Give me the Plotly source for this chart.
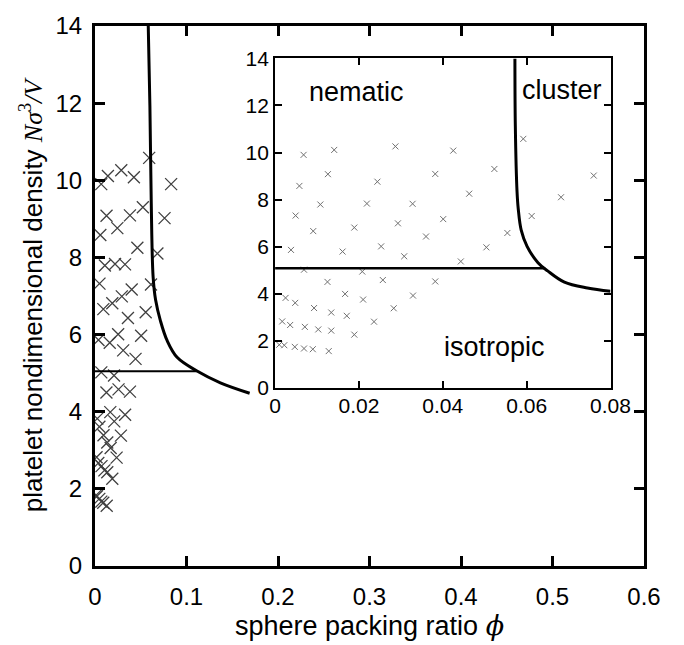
import plotly.graph_objects as go

# ---- data ----
phi = [0.0068, 0.0141, 0.0287, 0.0425, 0.0592, 0.0126, 0.0382, 0.0523, 0.0760,
       0.0058, 0.0244, 0.0463, 0.0682, 0.0108, 0.0219, 0.0328, 0.0049, 0.0401,
       0.0612, 0.0293, 0.0091, 0.0189, 0.0360, 0.0554, 0.0038, 0.0161, 0.0253,
       0.0504, 0.0308, 0.0443, 0.0069, 0.0208, 0.0125, 0.0257, 0.0382, 0.0167,
       0.0025, 0.0048, 0.0210, 0.0329, 0.0093, 0.0134, 0.0171, 0.0283, 0.0017,
       0.0036, 0.0071, 0.0103, 0.0134, 0.0236, 0.0189, 0.0010, 0.0022, 0.0047,
       0.0069, 0.0090, 0.0128, 0.0832]
density = [9.90, 10.11, 10.26, 10.08, 10.58, 9.08, 9.09, 9.30, 9.02,
           8.58, 8.76, 8.25, 8.10, 7.79, 7.83, 7.82, 7.32, 7.17,
           7.30, 6.99, 6.66, 6.81, 6.43, 6.58, 5.86, 5.79, 6.01,
           5.97, 5.59, 5.37, 5.02, 4.94, 4.50, 4.58, 4.52, 3.99,
           3.82, 3.61, 3.75, 3.92, 3.39, 3.20, 3.06, 3.38, 2.82,
           2.67, 2.59, 2.48, 2.43, 2.81, 2.26, 1.83, 1.81, 1.74,
           1.67, 1.64, 1.56, 9.90]

main_boundary_phi = [0.0582, 0.0600, 0.0615, 0.0635, 0.0662, 0.0716, 0.0789,
                     0.0897, 0.1110, 0.1370, 0.1690]
main_boundary_N = [14.0, 11.93, 9.39, 7.50, 6.90, 6.35, 5.84,
                   5.41, 5.06, 4.75, 4.48]
main_transition_phi = [0.0, 0.111]
main_transition_N = [5.05, 5.05]

inset_boundary_phi = [0.0572, 0.0573, 0.0577, 0.0580, 0.0587, 0.0601, 0.0627,
                      0.0650, 0.0690, 0.0745, 0.0800]
inset_boundary_N = [14.0, 11.13, 8.36, 7.60, 6.70, 6.01, 5.32,
                    4.97, 4.49, 4.24, 4.10]
inset_transition_phi = [0.0, 0.0644]
inset_transition_N = [5.08, 5.08]

main_xticks = [0, 0.1, 0.2, 0.3, 0.4, 0.5, 0.6]
main_xticklabels = ["0", "0.1", "0.2", "0.3", "0.4", "0.5", "0.6"]
yticks = [0, 2, 4, 6, 8, 10, 12, 14]
yticklabels = ["0", "2", "4", "6", "8", "10", "12", "14"]
inset_xticks = [0, 0.02, 0.04, 0.06, 0.08]
inset_xticklabels = ["0", "0.02", "0.04", "0.06", "0.08"]

phase_labels = ["nematic", "cluster", "isotropic"]
phase_label_phi = [0.0194, 0.0685, 0.0524]
phase_label_N = [12.59, 12.67, 1.74]

FONT = "Liberation Sans, Arial, sans-serif"
SERIF = "DejaVu Serif, Liberation Serif, serif"
SERIF2 = "Liberation Serif, Times New Roman, serif"

fig = go.Figure()

# main panel
fig.add_trace(go.Scatter(x=phi, y=density, mode="markers", xaxis="x", yaxis="y",
                         marker=dict(symbol="x-thin", size=12,
                                     line=dict(width=1.3, color="#404040")),
                         showlegend=False))
fig.add_trace(go.Scatter(x=main_boundary_phi, y=main_boundary_N, mode="lines",
                         xaxis="x", yaxis="y",
                         line=dict(color="black", width=3, shape="spline"),
                         showlegend=False))
fig.add_trace(go.Scatter(x=main_transition_phi, y=main_transition_N, mode="lines",
                         xaxis="x", yaxis="y",
                         line=dict(color="black", width=2), showlegend=False))

# inset panel
fig.add_trace(go.Scatter(x=phi, y=density, mode="markers", xaxis="x2", yaxis="y2",
                         marker=dict(symbol="x-thin", size=6,
                                     line=dict(width=1, color="#707070")),
                         showlegend=False))
fig.add_trace(go.Scatter(x=inset_boundary_phi, y=inset_boundary_N, mode="lines",
                         xaxis="x2", yaxis="y2",
                         line=dict(color="black", width=3, shape="spline"),
                         showlegend=False))
fig.add_trace(go.Scatter(x=inset_transition_phi, y=inset_transition_N, mode="lines",
                         xaxis="x2", yaxis="y2",
                         line=dict(color="black", width=2.5), showlegend=False))

main_axis = dict(showline=True, linewidth=3, linecolor="black", mirror="allticks",
                 ticks="inside", ticklen=10, tickwidth=3, tickcolor="black",
                 showgrid=False, zeroline=False,
                 tickfont=dict(family=FONT, size=24, color="black"))
inset_axis = dict(showline=True, linewidth=2, linecolor="black", mirror="allticks",
                  ticks="inside", ticklen=7, tickwidth=1.5, tickcolor="black",
                  showgrid=False, zeroline=False,
                  tickfont=dict(family=FONT, size=21, color="black"))

for text, x, y in zip(phase_labels, phase_label_phi, phase_label_N):
    fig.add_annotation(text=text, x=x, y=y, xref="x2", yref="y2", showarrow=False,
                       font=dict(family=FONT, size=27, color="black"),
                       xanchor="center", yanchor="middle")

fig.update_layout(
    width=684, height=645,
    margin=dict(l=95, r=40, t=19, b=75),
    paper_bgcolor="white", plot_bgcolor="white",
    showlegend=False,
    xaxis=dict(main_axis, domain=[0, 1], range=[0, 0.6], anchor="y",
               tickvals=main_xticks, ticktext=main_xticklabels, ticklabelstandoff=7,
               title=dict(text="sphere packing ratio <span style='font-family:" + SERIF +
                          "'><i>ϕ</i></span>",
                          font=dict(family=FONT, size=27, color="black"), standoff=4)),
    yaxis=dict(main_axis, domain=[0, 1], range=[0, 14], anchor="x",
               tickvals=yticks, ticktext=yticklabels, ticklabelstandoff=5,
               title=dict(text="platelet nondimensional density <span style='font-family:" +
                          SERIF2 + "'><i>Nσ</i><sup>3</sup><i>/V</i></span>",
                          font=dict(family=FONT, size=26, color="black"), standoff=6)),
    xaxis2=dict(inset_axis, domain=[0.328, 0.939], range=[0, 0.08], anchor="y2",
                tickvals=inset_xticks, ticktext=inset_xticklabels, ticklabelstandoff=-2),
    yaxis2=dict(inset_axis, domain=[0.330, 0.940], range=[0, 14], anchor="x2",
                tickvals=yticks, ticktext=yticklabels),
)

fig.write_html("out.html")
